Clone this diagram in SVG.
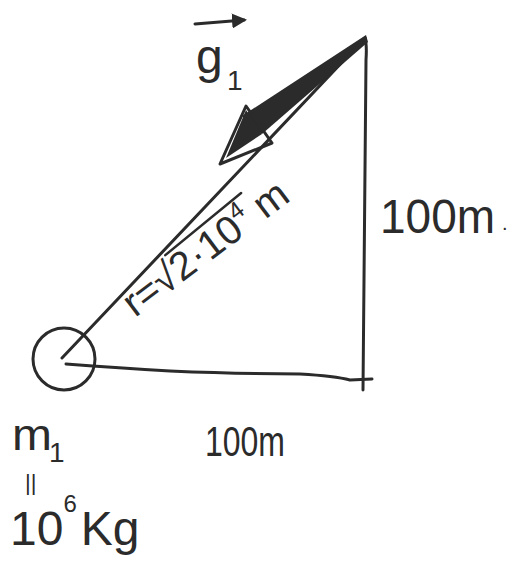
<svg xmlns="http://www.w3.org/2000/svg" width="510" height="573" viewBox="0 0 510 573">
<style>
.ln{stroke:#2b2b2b;fill:none;stroke-linecap:round;stroke-linejoin:round}
.t{font-family:"Liberation Sans","DejaVu Sans",sans-serif;fill:#2b2b2b}
</style>
<defs>
<marker id="vh" viewBox="0 0 10 10" refX="8" refY="5" markerWidth="5" markerHeight="5" orient="auto">
<path d="M0,0 L10,5 L0,10 z" fill="#2b2b2b"/>
</marker>
</defs>
<rect width="510" height="573" fill="#fff"/>
<g id="connectors">
<path class="ln" stroke-width="3" d="M62,358 L365,38"/>
<path class="ln" stroke-width="3" d="M365,38 Q367,45 366,60 L363,390"/>
<path class="ln" stroke-width="3" d="M66,364 Q120,368 170,371 Q240,374 300,374 Q335,376 350,380 L372,379"/>
<path d="M366,35 L368,42 L262,134 L242,116 Z" fill="#2b2b2b"/>
<path class="ln" stroke-width="3" d="M246,106 L272,143 L220,164 Z" fill="#fff"/>
<path d="M246,110 L262,134 L226,158 Z" fill="#2b2b2b"/>
</g>
<g id="mass">
<circle class="ln" stroke-width="3" cx="64" cy="359" r="31"/>
<text class="t" x="12" y="450" font-size="44" textLength="40" lengthAdjust="spacingAndGlyphs">m</text>
<text class="t" x="49" y="462" font-size="28">1</text>
<text class="t" x="25" y="490" font-size="22">||</text>
<text class="t" x="10" y="545" font-size="48"><tspan>10</tspan><tspan font-size="24" dy="-33">6</tspan><tspan dy="33" dx="4">Kg</tspan></text>
</g>
<g id="g1-label">
<line class="ln" stroke-width="3" x1="195" y1="24" x2="244" y2="20" marker-end="url(#vh)"/>
<text class="t" x="196" y="73" font-size="48">g</text>
<text class="t" x="227" y="90" font-size="28">1</text>
</g>
<g id="side-labels">
<text class="t" x="380" y="233" font-size="48" textLength="115" lengthAdjust="spacingAndGlyphs">100m</text>
<text class="t" x="502" y="230" font-size="20">.</text>
<text class="t" x="205" y="456" font-size="42" textLength="80" lengthAdjust="spacingAndGlyphs">100m</text>
</g>
<g id="r-label" transform="translate(135,318) rotate(-37)">
<text class="t" x="0" y="0" font-size="40"><tspan>r=√</tspan><tspan>2·10</tspan><tspan font-size="24" dy="-17">4</tspan><tspan dy="17"> m</tspan></text>
<line class="ln" stroke-width="2.5" x1="62" y1="-32" x2="160" y2="-36"/>
</g>
</svg>
